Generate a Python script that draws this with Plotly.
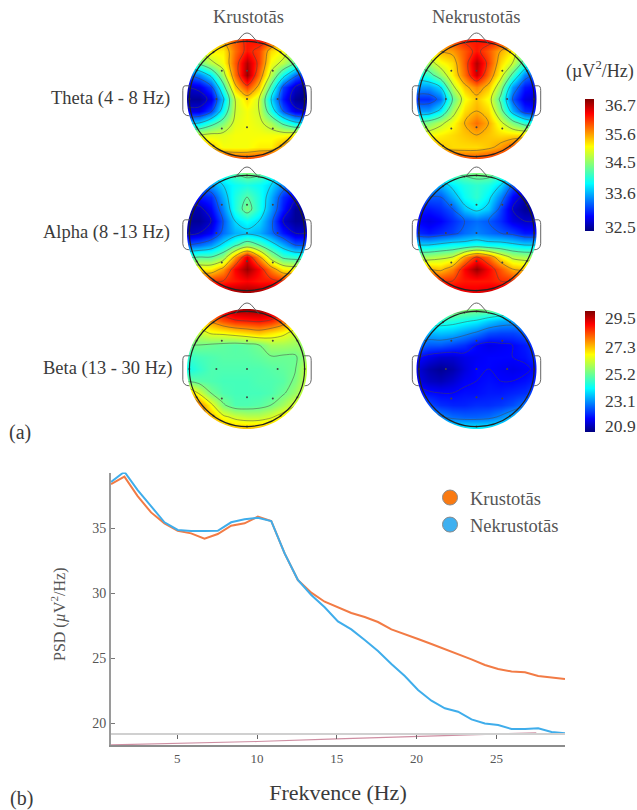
import numpy as np
import plotly.graph_objects as go

W, H = 637, 810
FONT = "Liberation Serif"
TXT = "#3a3a3a"

# ---------- line chart data ----------
freq_hz = [0.85, 1.69, 2.52, 3.36, 4.2, 5.03, 5.87, 6.71, 7.54, 8.38, 9.22, 10.05, 10.89, 11.73, 12.56,
           13.4, 14.24, 15.07, 15.91, 16.75, 17.58, 18.42, 19.26, 20.09, 20.93, 21.77, 22.6, 23.44, 24.28,
           25.11, 25.95, 26.79, 27.62, 28.46, 29.3]
krustotas_psd = [38.38, 38.95, 37.46, 36.2, 35.36, 34.79, 34.59, 34.18, 34.54, 35.18, 35.36, 35.87, 35.54,
                 33.05, 31.0, 30.03, 29.33, 28.9, 28.46, 28.15, 27.77, 27.2, 26.8, 26.46, 26.08, 25.69,
                 25.33, 24.9, 24.46, 24.15, 23.97, 23.9, 23.62, 23.51, 23.38]
nekrustotas_psd = [38.54, 39.33, 37.92, 36.64, 35.44, 34.85, 34.77, 34.77, 34.79, 35.44, 35.67, 35.79, 35.54,
                   33.05, 31.0, 29.85, 28.9, 27.82, 27.2, 26.38, 25.54, 24.54, 23.62, 22.54, 21.72, 21.13,
                   20.87, 20.28, 19.97, 19.85, 19.54, 19.54, 19.59, 19.31, 19.21]
signif_hz = [0.85, 5, 10, 15, 20, 25, 27.5]
signif_val = [18.32, 18.42, 18.58, 18.78, 18.98, 19.2, 19.25]

x_ticks = [5, 10, 15, 20, 25]
y_ticks = [20, 25, 30, 35]

# ---------- topographic map data (µV²/Hz), rows from front (top) to back ----------
grid_pos = [-1, -.8, -.6, -.4, -.2, 0, .2, .4, .6, .8, 1]
grid_row = [1, .8, .6, .4, .2, 0, -.2, -.4, -.6, -.8, -1]

theta_k = [
 [35.3,35.3,35.6,35.7,36.0,36.3,36.4,36.2,35.5,35.3,35.2],
 [34.9,35.0,35.3,35.3,35.9,36.3,36.1,35.4,35.2,34.8,34.5],
 [34.2,34.5,34.9,35.2,36.0,36.7,36.1,35.2,34.9,34.4,33.8],
 [33.2,33.4,33.9,34.8,35.9,36.8,35.9,34.9,34.0,33.3,32.9],
 [32.6,32.7,33.1,34.2,35.5,36.1,35.5,34.3,33.1,32.6,32.4],
 [32.4,32.4,32.7,33.7,35.0,35.4,35.0,33.8,32.9,32.4,32.3],
 [32.7,32.7,33.1,34.0,35.0,35.2,35.0,34.1,33.2,32.7,32.6],
 [33.7,33.8,34.2,34.6,35.1,35.2,35.1,34.8,34.3,33.9,33.8],
 [35.0,35.0,35.1,35.1,35.2,35.2,35.2,35.2,35.2,35.3,35.6],
 [35.6,35.7,35.5,35.2,35.2,35.2,35.3,35.3,35.7,36.2,36.3],
 [36.2,36.4,36.5,36.3,36.1,36.1,36.2,36.4,36.6,36.6,36.6]]
theta_n = [
 [35.5,35.6,35.8,36.1,36.3,36.3,36.4,36.3,36.1,35.6,35.3],
 [35.0,35.2,35.6,35.7,36.0,36.3,36.0,35.6,35.3,34.6,34.1],
 [34.6,34.8,35.2,35.4,36.0,36.7,36.1,35.4,35.0,34.2,33.6],
 [34.0,34.2,34.7,35.3,35.9,36.6,35.9,35.2,34.3,33.4,33.1],
 [33.5,33.5,33.8,34.9,35.5,35.8,35.5,34.7,33.5,32.9,32.8],
 [33.0,33.0,33.3,34.4,35.2,35.5,35.2,34.3,33.2,32.7,32.6],
 [33.5,33.5,33.9,34.8,35.4,35.6,35.4,34.6,33.6,33.0,32.9],
 [34.5,34.6,34.9,35.2,35.6,35.9,35.6,35.1,34.6,34.2,34.0],
 [35.2,35.2,35.3,35.4,35.5,35.6,35.5,35.4,35.4,35.4,35.6],
 [35.8,35.7,35.5,35.4,35.4,35.4,35.5,35.7,36.0,36.3,36.4],
 [36.1,36.3,36.3,36.2,36.1,36.1,36.2,36.3,36.6,36.6,36.6]]
alpha_k = [
 [33.6,33.7,33.9,34.1,34.4,34.6,34.5,34.1,33.7,33.3,33.2],
 [33.2,33.3,33.5,33.8,34.0,34.1,34.0,33.8,33.4,33.0,32.9],
 [32.9,32.9,33.0,33.6,34.1,34.4,34.1,33.6,33.0,32.7,32.7],
 [32.5,32.5,32.8,33.4,34.1,34.6,34.1,33.5,32.9,32.4,32.4],
 [32.4,32.4,32.6,33.2,33.8,34.0,33.8,33.3,32.6,32.4,32.4],
 [32.5,32.6,32.8,33.3,33.6,33.7,33.6,33.3,32.9,32.6,32.6],
 [33.2,33.3,33.5,33.9,34.3,34.7,34.4,34.0,33.6,33.2,33.2],
 [34.3,34.4,34.4,34.7,35.7,36.5,35.7,34.8,34.3,34.2,34.2],
 [35.3,35.3,35.3,35.7,36.4,36.8,36.4,35.8,35.3,35.2,35.2],
 [36.1,36.2,36.2,36.2,36.3,36.4,36.3,36.3,36.2,36.2,36.2],
 [36.6,36.7,36.8,36.8,36.8,36.8,36.8,36.8,36.8,36.7,36.6]]
alpha_n = [
 [34.0,34.1,34.3,34.4,34.5,34.6,34.6,34.3,34.0,33.5,33.3],
 [33.6,33.6,33.6,33.9,34.1,34.2,34.1,33.8,33.2,32.9,32.8],
 [33.2,33.2,33.2,33.6,34.0,34.2,33.9,33.4,32.8,32.5,32.5],
 [32.9,32.9,33.0,33.2,33.7,33.9,33.7,33.1,32.6,32.4,32.4],
 [32.8,32.7,32.8,33.0,33.2,33.3,33.2,33.0,32.7,32.6,32.6],
 [33.0,32.9,33.0,33.1,33.3,33.4,33.3,33.2,33.1,32.9,32.9],
 [33.8,33.8,33.9,34.0,34.0,34.1,34.0,34.0,33.9,33.8,33.8],
 [34.8,34.8,34.9,35.0,35.7,36.2,35.9,35.3,34.9,34.8,34.8],
 [35.6,35.6,35.5,35.8,36.4,36.8,36.4,36.0,35.6,35.5,35.4],
 [36.2,36.3,36.2,36.2,36.3,36.3,36.3,36.2,36.2,36.2,36.1],
 [36.6,36.7,36.7,36.6,36.5,36.5,36.6,36.7,36.7,36.6,36.5]]
beta_k = [
 [28.5,28.5,28.8,29.3,29.7,29.8,29.8,29.6,29.0,28.0,27.0],
 [26.5,26.9,27.6,28.2,28.6,28.7,28.8,28.6,28.0,27.0,26.3],
 [25.7,25.9,26.4,26.5,26.7,26.9,27.1,26.8,26.5,26.0,25.6],
 [25.1,25.1,25.0,24.9,24.8,24.9,25.1,25.6,25.6,25.5,25.5],
 [24.4,24.6,24.7,24.8,24.8,24.8,24.9,25.05,25.0,25.0,25.6],
 [24.0,24.4,24.7,24.7,24.7,24.7,24.7,24.8,24.9,25.05,26.0],
 [25.0,24.8,24.7,24.6,24.6,24.6,24.7,24.7,24.8,25.2,26.0],
 [27.5,26.2,25.1,24.7,24.6,24.6,24.6,24.7,25.0,25.5,26.2],
 [28.5,27.8,26.5,25.2,24.7,24.7,24.8,25.1,25.6,26.2,26.7],
 [28.0,27.9,27.3,26.5,26.1,25.9,25.9,26.2,26.7,27.2,27.5],
 [27.8,27.8,27.6,27.4,27.2,27.2,27.3,27.4,27.6,27.7,27.7]]
beta_n = [
 [25.0,25.0,25.4,25.6,25.4,25.3,25.2,25.0,24.5,24.0,23.8],
 [24.2,24.3,24.3,24.2,24.0,23.8,23.4,23.1,23.0,23.0,23.2],
 [23.2,23.2,23.3,23.2,22.9,22.6,22.2,22.1,22.1,22.3,22.5],
 [22.6,22.3,22.3,22.1,21.9,21.5,21.3,21.4,21.5,21.7,22.0],
 [21.6,21.3,21.1,21.1,21.3,21.4,21.5,21.5,21.5,21.6,21.9],
 [21.2,20.8,20.6,20.8,21.2,21.5,21.5,21.4,21.3,21.4,21.6],
 [21.3,21.0,20.9,21.1,21.4,21.5,21.6,21.5,21.5,21.6,21.8],
 [21.8,21.6,21.5,21.5,21.6,21.6,21.7,21.7,21.8,21.9,22.2],
 [22.5,22.2,21.9,21.8,21.8,21.9,21.9,22.0,22.2,22.6,23.2],
 [23.4,23.2,22.8,22.5,22.4,22.4,22.5,22.8,23.3,23.6,23.8],
 [24.0,24.0,24.0,24.0,23.9,23.9,23.9,24.0,24.0,24.0,24.0]]

electrode_x = [0,-.42,.43,-.51,0,.51,-.42,0,.43,0,-.56,.56,-.96,.96,-.56,.56,0,-.84,.84,-.84,.84]
electrode_y = [.47,.47,.47,0,0,0,-.49,-.47,-.49,.96,.78,.78,0,0,-.78,-.78,-.96,.47,.47,-.47,-.47]

upper_ticks = [36.7, 35.7, 34.7, 33.63, 32.46]
upper_labels = ["36.7", "35.6", "34.5", "33.6", "32.5"]
lower_ticks = [29.5, 27.15, 25.0, 22.9, 20.9]
lower_labels = ["29.5", "27.3", "25.2", "23.1", "20.9"]

JET = [[0, "#00007F"], [0.11, "#0000FF"], [0.36, "#00FFFF"], [0.5, "#7FFF7F"],
       [0.64, "#FFFF00"], [0.89, "#FF0000"], [1, "#7F0000"]]


def fx(px):
    return px / W


def fy(py):
    return 1 - py / H


LIM = 1.13
HALF = 60 * LIM
t = np.linspace(0, 2 * np.pi, 121)
ring = " ".join(("M" if i == 0 else "L") + f"{np.cos(a):.4f},{np.sin(a):.4f}" for i, a in enumerate(t))
MASK = f"M-1.3,-1.3 L1.3,-1.3 L1.3,1.3 L-1.3,1.3 Z {ring} Z"
NOSE = "M-0.2,0.92 L-0.07,1.07 Q0,1.13 0.07,1.07 L0.2,0.92"
EAR_L = "M-0.95,0.22 L-1.03,0.22 Q-1.07,0.22 -1.07,0.14 L-1.07,-0.18 Q-1.06,-0.28 -0.96,-0.28"
EAR_R = "M0.95,0.22 L1.03,0.22 Q1.07,0.22 1.07,0.14 L1.07,-0.18 Q1.06,-0.28 0.96,-0.28"

fig = go.Figure()
shapes = []
layout_axes = {}

# lines
fig.add_trace(go.Scatter(x=freq_hz, y=krustotas_psd, mode="lines", line=dict(color="#F27B45", width=2),
                         showlegend=False, cliponaxis=False, xaxis="x", yaxis="y"))
fig.add_trace(go.Scatter(x=freq_hz, y=nekrustotas_psd, mode="lines", line=dict(color="#3FADEB", width=2),
                         showlegend=False, cliponaxis=False, xaxis="x", yaxis="y"))
fig.add_trace(go.Scatter(x=signif_hz, y=signif_val, mode="lines", line=dict(color="rgba(165,50,85,0.55)", width=1.2),
                         showlegend=False, xaxis="x2", yaxis="y"))
fig.add_trace(go.Scatter(x=[None], y=[None], mode="markers", name="Krustotās", xaxis="x", yaxis="y",
                         marker=dict(size=15, color="#F97A12", line=dict(color="#8a8a8a", width=1))))
fig.add_trace(go.Scatter(x=[None], y=[None], mode="markers", name="Nekrustotās", xaxis="x", yaxis="y",
                         marker=dict(size=15, color="#3FB0F0", line=dict(color="#8a8a8a", width=1))))

X0, X1, YT, YB = 111, 565, 472.5, 745
X_RANGE = [0.85, 29.3]
Y_RANGE = [18.31, 39.27]
layout_axes["xaxis"] = dict(domain=[fx(X0), fx(X1)], range=X_RANGE, anchor="y", tickmode="array", tickvals=x_ticks,
                            ticks="", showgrid=False, zeroline=False, showline=True, linecolor="#8c8c8c", linewidth=2,
                            tickfont=dict(family=FONT, size=13, color="#555"),
                            title=dict(text="Frekvence (Hz)", font=dict(family=FONT, size=22, color=TXT), standoff=20))
layout_axes["yaxis"] = dict(domain=[fy(YB), fy(YT)], range=Y_RANGE, anchor="x", tickmode="array", tickvals=y_ticks,
                            ticks="inside", ticklen=4, tickcolor="#777", showgrid=False, zeroline=False,
                            showline=True, linecolor="#9a9a9a", linewidth=2,
                            tickfont=dict(family=FONT, size=14, color="#555"))
layout_axes["xaxis2"] = dict(overlaying="x", anchor="free", position=fy(733.5), side="bottom", range=X_RANGE,
                             tickmode="array", tickvals=x_ticks, showticklabels=False, ticks="outside", ticklen=4,
                             tickcolor="#666", showgrid=False, zeroline=False, showline=True,
                             linecolor="#d0d0d0", linewidth=2)

# topographic maps
cols = [247, 476.5]
rows = [99, 233, 369]
maps = [[theta_k, theta_n], [alpha_k, alpha_n], [beta_k, beta_n]]
ranges = [(32.3, 36.9, 0.6, 32.6), (32.3, 36.9, 0.6, 32.6), (20.42, 30.02, 1.2, 21.5)]
ax = 3
for r, cy in enumerate(rows):
    zmin, zmax, step, first = ranges[r]
    for c, cx in enumerate(cols):
        xa, ya = f"x{ax}", f"y{ax}"
        cb = None
        show = False
        if c == 0 and r == 0:
            show = True
            cb = dict(x=fx(585), xanchor="left", y=fy(165), yanchor="middle", len=132 / H, lenmode="fraction",
                      thickness=8.5, thicknessmode="pixels", xpad=0, ypad=0, outlinewidth=0, ticks="outside",
                      ticklen=8, tickcolor="rgba(0,0,0,0)", tickvals=upper_ticks, ticktext=upper_labels,
                      tickfont=dict(family=FONT, size=17.5, color=TXT))
        if c == 0 and r == 2:
            show = True
            cb = dict(x=fx(585), xanchor="left", y=fy(371.5), yanchor="middle", len=121 / H, lenmode="fraction",
                      thickness=9.5, thicknessmode="pixels", xpad=0, ypad=0, outlinewidth=0, ticks="outside",
                      ticklen=7, tickcolor="rgba(0,0,0,0)", tickvals=lower_ticks, ticktext=lower_labels,
                      tickfont=dict(family=FONT, size=17.5, color=TXT))
        fig.add_trace(go.Heatmap(x=grid_pos, y=grid_row, z=maps[r][c], colorscale=JET, zmin=zmin, zmax=zmax,
                                 zsmooth="best", showscale=show, colorbar=cb, xaxis=xa, yaxis=ya, hoverinfo="skip",
                                 showlegend=False))
        fig.add_trace(go.Contour(x=grid_pos, y=grid_row, z=maps[r][c], showscale=False, xaxis=xa, yaxis=ya,
                                 contours=dict(coloring="none", start=first, end=zmax, size=step), showlegend=False,
                                 line=dict(color="rgba(70,70,70,0.55)", width=0.9, smoothing=1.0), hoverinfo="skip"))
        fig.add_trace(go.Scatter(x=electrode_x, y=electrode_y, mode="markers", xaxis=xa, yaxis=ya, showlegend=False,
                                 marker=dict(size=2, color="#444"), hoverinfo="skip"))
        suffix = str(ax)
        layout_axes[f"xaxis{suffix}"] = dict(domain=[fx(cx - HALF), fx(cx + HALF)], range=[-LIM, LIM], visible=False,
                                             anchor=ya, fixedrange=True)
        layout_axes[f"yaxis{suffix}"] = dict(domain=[fy(cy + HALF), fy(cy - HALF)], range=[-LIM, LIM], visible=False,
                                             anchor=xa, fixedrange=True)
        shapes.append(dict(type="path", path=MASK, fillcolor="white", fillrule="evenodd", line=dict(width=0),
                           xref=xa, yref=ya, layer="above"))
        shapes.append(dict(type="circle", x0=-.96, x1=.96, y0=-.96, y1=.96, line=dict(color="#222", width=1.2),
                           xref=xa, yref=ya, layer="above"))
        for p in (NOSE, EAR_L, EAR_R):
            shapes.append(dict(type="path", path=p, line=dict(color="#555", width=0.9), xref=xa, yref=ya, layer="above"))
        ax += 1


def note(text, px, py, size, anchor="center", angle=0, color=TXT):
    return dict(text=text, x=fx(px), y=fy(py), xref="paper", yref="paper", showarrow=False, xanchor=anchor,
                yanchor="middle", textangle=angle, font=dict(family=FONT, size=size, color=color))


annotations = [
    note("Krustotās", 248, 17, 18.5, color="#555"),
    note("Nekrustotās", 476, 17, 18.5, color="#555"),
    note("Theta (4 - 8 Hz)", 172, 98, 18.5, "right"),
    note("Alpha (8 -13 Hz)", 172, 232, 18.5, "right"),
    note("Beta (13 - 30 Hz)", 174, 369, 18.5, "right"),
    note("(µV<sup>2</sup>/Hz)", 600, 70, 18),
    note("(a)", 20, 432, 20),
    note("(b)", 21, 798, 20),
    note("PSD (<i>µ</i>V<sup>2</sup>/Hz)", 58, 614, 16, angle=-90, color="#555"),
]

fig.update_layout(
    width=W, height=H, paper_bgcolor="white", plot_bgcolor="white",
    margin=dict(l=0, r=0, t=0, b=0, pad=0, autoexpand=False),
    shapes=shapes, annotations=annotations,
    legend=dict(x=fx(430), y=fy(479), xanchor="left", yanchor="top", bgcolor="rgba(0,0,0,0)", borderwidth=0,
                font=dict(family=FONT, size=18.5, color="#555"), itemwidth=30, tracegroupgap=0),
    **layout_axes,
)
fig.write_html("out.html", config=dict(displayModeBar=False),
               post_script="document.body.style.margin='0';document.body.style.overflow='hidden';")
